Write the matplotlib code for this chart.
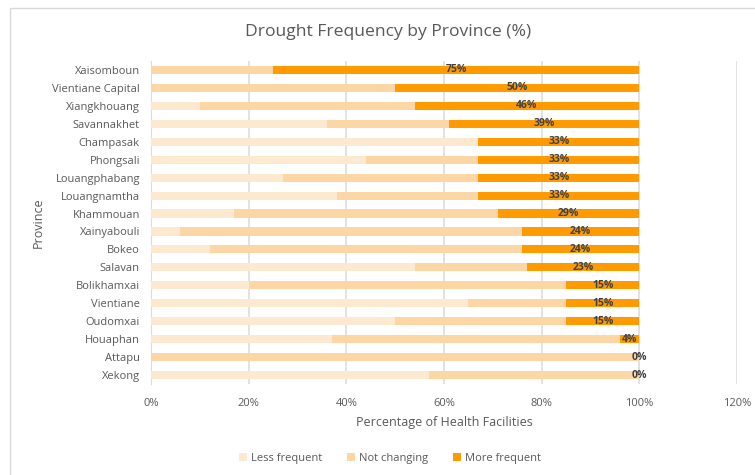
import numpy as np
import matplotlib.pyplot as plt
from matplotlib.patches import Rectangle

plt.rcParams['font.family'] = ['Open Sans', 'DejaVu Sans']

provinces = ['Xaisomboun', 'Vientiane Capital', 'Xiangkhouang', 'Savannakhet',
             'Champasak', 'Phongsali', 'Louangphabang', 'Louangnamtha',
             'Khammouan', 'Xainyabouli', 'Bokeo', 'Salavan', 'Bolikhamxai',
             'Vientiane', 'Oudomxai', 'Houaphan', 'Attapu', 'Xekong']
less_frequent = [0, 0, 10, 36, 67, 44, 27, 38, 17, 6, 12, 54, 20, 65, 50, 37, 0, 57]
not_changing = [25, 50, 44, 25, 0, 23, 40, 29, 54, 70, 64, 23, 65, 20, 35, 59, 100, 43]
more_frequent = [75, 50, 46, 39, 33, 33, 33, 33, 29, 24, 24, 23, 15, 15, 15, 4, 0, 0]

colors = ['#FDE8D0', '#FDD6A6', '#FF9A00']
text_col = '#595959'

fig = plt.figure(figsize=(7.55, 4.75), dpi=100)
ax = fig.add_axes([151 / 755, 1 - 384 / 475, 586 / 755, 323 / 475])

y = np.arange(len(provinces))
less = np.array(less_frequent)
nc = np.array(not_changing)
more = np.array(more_frequent)
h = 0.45
ax.barh(y, less, height=h, color=colors[0], label='Less frequent', zorder=2)
ax.barh(y, nc, left=less, height=h, color=colors[1], label='Not changing', zorder=2)
ax.barh(y, more, left=less + nc, height=h, color=colors[2], label='More frequent', zorder=2)

# value labels centred on the "more frequent" segment
for yi, l, n, m in zip(y, less, nc, more):
    ax.text(l + n + m / 2, yi, f'{m}%', ha='center', va='center', fontsize=7.5,
            fontweight='bold', color='#404040', zorder=3)

ax.set_xlim(0, 120)
ax.set_ylim(len(provinces) - 0.5, -0.5)
ax.set_xticks(np.arange(0, 121, 20))
ax.set_xticklabels([f'{v}%' for v in range(0, 121, 20)])
ax.set_yticks(y)
ax.set_yticklabels(provinces)
ax.tick_params(axis='both', length=0, labelsize=8, colors=text_col)
ax.tick_params(axis='x', pad=10)
ax.tick_params(axis='y', pad=8)
ax.grid(axis='x', color='#DDDDDD', linewidth=1.2, zorder=0)
for s in ['top', 'right', 'bottom']:
    ax.spines[s].set_visible(False)
ax.spines['left'].set_color('#D9D9D9')
ax.spines['left'].set_zorder(1)

ax.set_xlabel('Percentage of Health Facilities', fontsize=9, color=text_col, labelpad=5)
ax.set_ylabel('Province', fontsize=9, color=text_col, labelpad=5)
fig.text(388 / 755, 1 - 32 / 475, 'Drought Frequency by Province (%)', ha='center',
         va='center', fontsize=12.6, color=text_col)

fig.legend(loc='center', bbox_to_anchor=(390 / 755, 1 - 458 / 475), ncol=3,
           frameon=False, fontsize=8, handlelength=0.7, handleheight=0.7,
           handletextpad=0.4, columnspacing=2.2, labelcolor=text_col)

# chart area border (cut off on the right and bottom, like the screenshot)
fig.patches.append(Rectangle((10 / 755, -0.1), 1.1, 1 - 8 / 475 + 0.1,
                             transform=fig.transFigure, fill=False,
                             edgecolor='#D9D9D9', linewidth=1))

fig.savefig('out.png', dpi=100)
